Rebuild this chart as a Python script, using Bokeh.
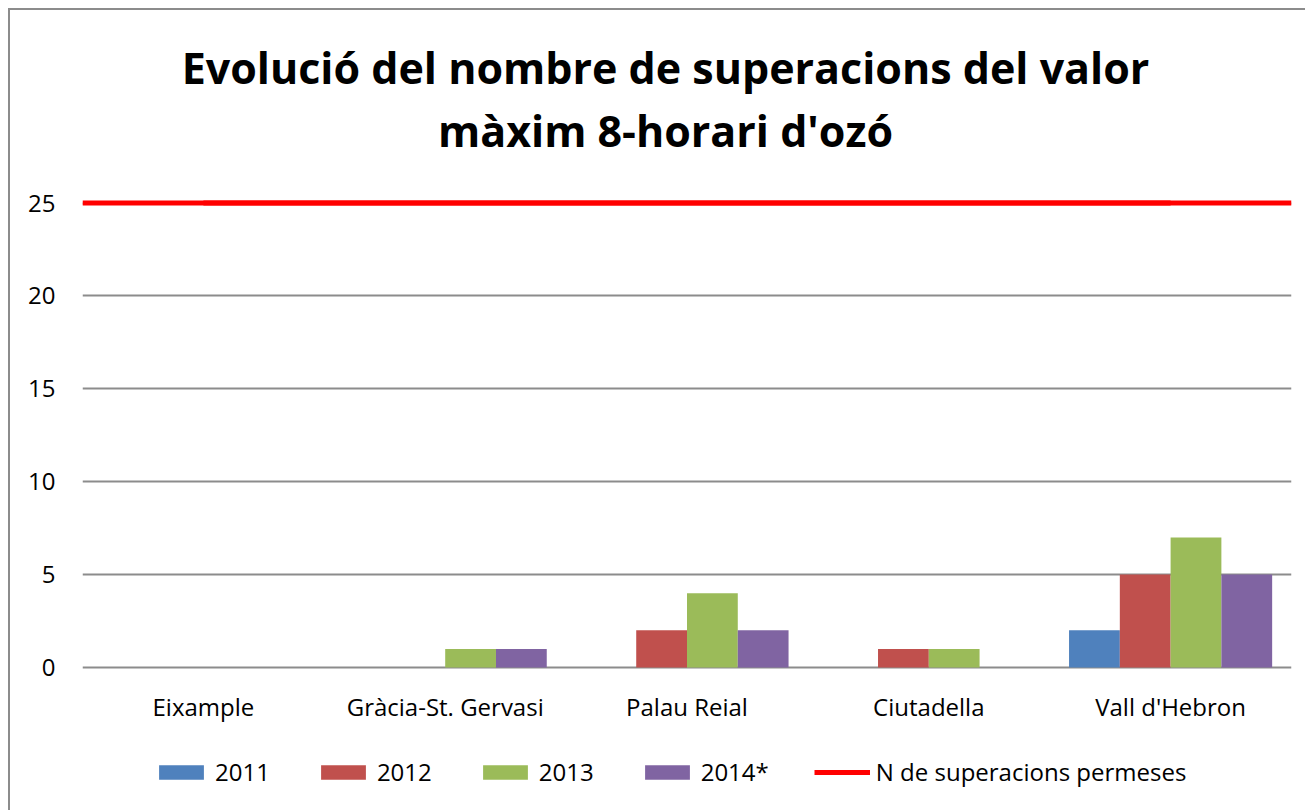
from bokeh.plotting import figure
from bokeh.models import (Range1d, FactorRange, FixedTicker, Span, Legend, LegendItem,
                          Label, LabelSet, ColumnDataSource)
from bokeh.core.properties import value
from bokeh.transform import dodge
from bokeh.embed import file_html
from bokeh.resources import INLINE

categories = ["Eixample", "Gràcia-St. Gervasi", "Palau Reial", "Ciutadella", "Vall d'Hebron"]
series_names = ["2011", "2012", "2013", "2014*"]
v2011 = [0, 0, 0, 0, 2]
v2012 = [0, 0, 2, 1, 5]
v2013 = [0, 1, 4, 1, 7]
v2014 = [0, 1, 2, 0, 5]
limit_value = 25
limit_label = "N de superacions permeses"
y_ticks = [0, 5, 10, 15, 20, 25]
title_lines = ["Evolució del nombre de superacions del valor", "màxim 8-horari d'ozó"]

colors = ["#4F81BD", "#C0504D", "#9BBB59", "#8064A2"]
series = [v2011, v2012, v2013, v2014]
offsets = [-0.315, -0.105, 0.105, 0.315]
FONT = "Open Sans"
GRID = "#8c8c8c"

p = figure(width=1297, height=802, x_range=FactorRange(*categories, range_padding=0),
           y_range=Range1d(-7.535, 35.364), output_backend="svg", toolbar_location=None,
           title=None, min_border_left=72, min_border_right=16, min_border_top=0,
           min_border_bottom=5)
p.outline_line_color = None
p.background_fill_color = "white"
p.border_fill_color = "white"
p.styles = {"margin-top": "8px", "margin-left": "8px",
            "border-top": "2px solid #8c8c8c", "border-left": "2px solid #8c8c8c"}

# title (two centred lines)
for line, ty in zip(title_lines, [740, 677]):
    p.add_layout(Label(x=583, y=ty, x_units="screen", y_units="screen", text=line,
                       text_align="center", text_baseline="middle", text_font=FONT,
                       text_font_style="bold", text_font_size="43px", text_color="black"))

source = ColumnDataSource({"cat": categories, "zero": [0] * len(categories),
                           **{n: v for n, v in zip(series_names, series)}})

renderers = []
for name, col, off in zip(series_names, colors, offsets):
    r = p.vbar(x=dodge("cat", off, range=p.x_range), top=name, width=0.21, source=source,
               fill_color=col, line_color=None)
    renderers.append(r)

span = Span(location=limit_value, dimension="width", line_color="#FF0000", line_width=5)
p.add_layout(span)
lr = p.line(x=[categories[0], categories[-1]], y=[limit_value, limit_value],
            line_color="#FF0000", line_width=5)

# category labels under the zero line
p.add_layout(LabelSet(x="cat", y="zero", text="cat", source=source, y_offset=-39,
                      text_align="center", text_baseline="middle", text_font=value(FONT),
                      text_font_size="24px", text_color="black"))

p.yaxis.ticker = FixedTicker(ticks=y_ticks)
p.yaxis.axis_line_color = None
p.yaxis.major_tick_line_color = None
p.yaxis.major_tick_out = 0
p.yaxis.minor_tick_line_color = None
p.yaxis.major_label_standoff = 27
p.yaxis.major_label_text_font = FONT
p.yaxis.major_label_text_font_size = "24px"
p.yaxis.major_label_text_color = "black"

p.xaxis.visible = False
p.xgrid.grid_line_color = None
p.ygrid.grid_line_color = GRID
p.ygrid.grid_line_width = 2

items = [LegendItem(label=n, renderers=[r]) for n, r in zip(series_names, renderers)]
items.append(LegendItem(label=limit_label, renderers=[lr]))
legend = Legend(items=items, orientation="horizontal", location=(71, 19),
                glyph_width=56, glyph_height=18, spacing=45, label_standoff=6,
                label_text_font=FONT, label_text_font_size="24px", label_text_color="black",
                border_line_color=None, background_fill_alpha=0, padding=10, margin=0)
p.add_layout(legend, "center")

open("out.html", "w").write(file_html(p, INLINE))
